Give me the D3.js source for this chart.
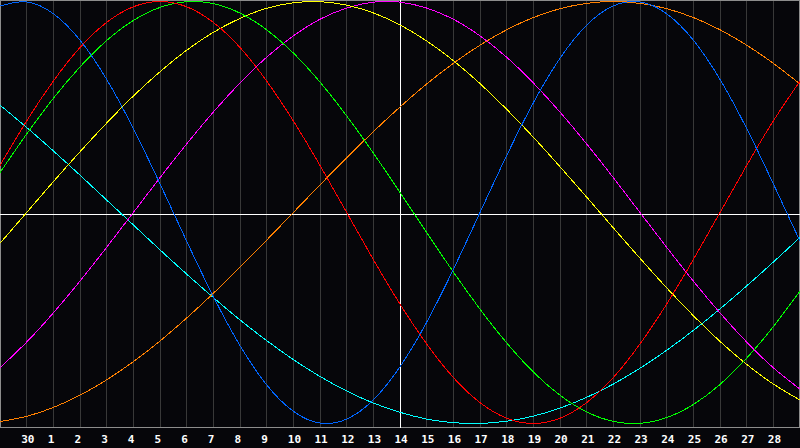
<!DOCTYPE html>
<html><head><meta charset="utf-8">
<script src="https://cdn.jsdelivr.net/npm/d3@7"></script>
<style>html,body{margin:0;padding:0;background:#06060a;overflow:hidden}</style>
</head><body><svg id="c" width="800" height="448"></svg>
<script>
// Day-of-month labels for day index 0..30 (left edge .. right edge)
const dayLabels = ["29","30","1","2","3","4","5","6","7","8","9","10","11","12","13","14","15","16","17","18","19","20","21","22","23","24","25","26","27","28","29"];
const todayIndex = 15;

// Biorhythm values (%) read per day, index 0..30
const physical     = [97.9,99.8,94.2,81.7,63.1,39.8,13.6,-13.6,-39.8,-63.1,-81.7,-94.2,-99.8,-97.9,-88.8,-73.1,-52.0,-27.0,0,27.0,52.0,73.1,88.8,97.9,99.8,94.2,81.7,63.1,39.8,13.6,-13.6];
const emotional    = [22.3,43.4,62.3,78.2,90.1,97.5,100,97.5,90.1,78.2,62.3,43.4,22.3,0,-22.3,-43.4,-62.3,-78.2,-90.1,-97.5,-100,-97.5,-90.1,-78.2,-62.3,-43.4,-22.3,0,22.3,43.4,62.3];
const intellectual = [18.9,37.2,54.1,69.0,81.5,91.0,97.2,99.9,99.0,94.5,86.6,75.6,61.8,45.8,28.2,9.5,-9.5,-28.2,-45.8,-61.8,-75.6,-86.6,-94.5,-99.0,-99.9,-97.2,-91.0,-81.5,-69.0,-54.1,-37.2];
const intuitive    = [-73.6,-61.4,-47.6,-32.5,-16.5,0,16.5,32.5,47.6,61.4,73.6,83.7,91.6,96.9,99.7,99.7,96.9,91.6,83.7,73.6,61.4,47.6,32.5,16.5,0,-16.5,-32.5,-47.6,-61.4,-73.6,-83.7];
const aesthetic    = [-14.6,0,14.6,28.8,42.4,55.2,66.7,76.9,85.4,92.0,96.8,99.4,99.9,98.3,94.6,88.9,81.3,72.0,61.1,48.9,35.7,21.7,7.3,-7.3,-21.7,-35.7,-48.9,-61.1,-72.0,-81.3,-88.9];
const awareness    = [-99.1,-96.6,-92.4,-86.6,-79.3,-70.7,-60.9,-50.0,-38.3,-25.9,-13.1,0,13.1,25.9,38.3,50.0,60.9,70.7,79.3,86.6,92.4,96.6,99.1,100,99.1,96.6,92.4,86.6,79.3,70.7,60.9];
const spiritual    = [50.9,40.3,29.2,17.7,5.9,-5.9,-17.7,-29.2,-40.3,-50.9,-60.7,-69.7,-77.7,-84.6,-90.3,-94.7,-97.9,-99.6,-100.0,-98.9,-96.5,-92.7,-87.6,-81.3,-73.8,-65.3,-55.9,-45.7,-34.8,-23.5,-11.8];

const seriesList = [
  {name:"spiritual", values:spiritual, color:"#00ffff"},
  {name:"awareness", values:awareness, color:"#ff8000"},
  {name:"intuitive", values:intuitive, color:"#ff00ff"},
  {name:"aesthetic", values:aesthetic, color:"#ffff00"},
  {name:"intellectual", values:intellectual, color:"#00ff00"},
  {name:"emotional", values:emotional, color:"#ff0000"},
  {name:"physical", values:physical, color:"#0066ff"}
];

const W = 800, H = 448, plotH = 428;
const svg = d3.select("#c");
svg.append("rect").attr("width",W).attr("height",H).attr("fill","#06060a");

const x = d3.scaleLinear().domain([0, dayLabels.length-1]).range([0, W]);
const y = d3.scaleLinear().domain([-100, 100]).range([423.5, 1.5]);
const snap = v => Math.floor(v) + 0.5;

// vertical day grid
const gridDays = d3.range(1, dayLabels.length-1);
svg.append("g").selectAll("line").data(gridDays).join("line")
  .attr("x1", d => snap(x(d))).attr("x2", d => snap(x(d)))
  .attr("y1", 0).attr("y2", plotH)
  .attr("stroke", "#383838").attr("stroke-width", 1)
  .attr("shape-rendering", "crispEdges");

// frame
svg.append("rect").attr("x",0.5).attr("y",0.5).attr("width",W-1).attr("height",plotH-1)
  .attr("fill","none").attr("stroke","#8c8c8c").attr("shape-rendering","crispEdges");

// zero line and today line
svg.append("line").attr("x1",0).attr("x2",W).attr("y1",snap(plotH/2)).attr("y2",snap(plotH/2))
  .attr("stroke","#ffffff").attr("shape-rendering","crispEdges");
svg.append("line").attr("x1",snap(x(todayIndex))).attr("x2",snap(x(todayIndex))).attr("y1",0).attr("y2",plotH)
  .attr("stroke","#ffffff").attr("shape-rendering","crispEdges");

// curves
const line = d3.line().x((d,i) => x(i)).y(d => y(d)).curve(d3.curveNatural);
svg.append("g").selectAll("path").data(seriesList).join("path")
  .attr("d", s => line(s.values))
  .attr("fill","none").attr("stroke", s => s.color).attr("stroke-width",1)
  .attr("shape-rendering","crispEdges");

// bottom axis labels
const axis = d3.axisBottom(x).tickValues(gridDays).tickSize(0).tickFormat(d => dayLabels[d]);
const gAxis = svg.append("g").attr("transform", `translate(0,${plotH})`).call(axis);
gAxis.select(".domain").remove();
gAxis.selectAll("text")
  .attr("fill","#ffffff").attr("dy",null).attr("y",15).attr("x",-6)
  .attr("text-anchor","start")
  .style("font-family","'DejaVu Sans Mono', 'Liberation Mono', monospace")
  .style("font-size","11px").style("font-weight","bold");
</script>
</body></html>
